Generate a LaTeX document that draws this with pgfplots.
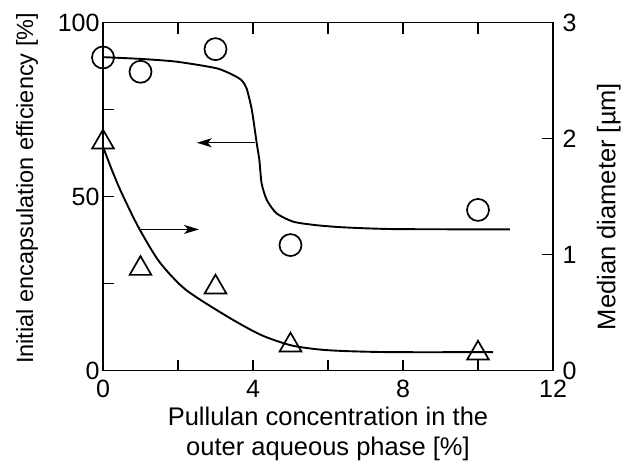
\documentclass[border=0pt]{standalone}
\usepackage{pgfplots}
\pgfplotsset{compat=1.18}
\usepackage{fontspec}
\setmainfont{Liberation Sans}
\usetikzlibrary{arrows.meta}
\begin{document}
\begin{tikzpicture}
\pgfplotsset{
  common/.style={
    scale only axis, width=450bp, height=348bp,
    xmin=0, xmax=12,
    tick align=inside,
    major tick length=11bp,
    axis line style={line width=1.5bp},
    every tick/.style={line width=1.5bp, black},
    /pgf/number format/assume math mode=true,
    tick label style={font=\fontsize{25bp}{30bp}\selectfont},
    label style={font=\fontsize{25.5bp}{30bp}\selectfont},
  }
}
\begin{axis}[common,
  ymin=0, ymax=100,
  xtick={0,2,4,6,8,10,12}, xticklabels={0,,4,,8,,12},
  ytick={0,25,50,75,100}, yticklabels={0,,50,,100},
  ytick pos=left,
  xticklabel style={yshift=-6bp},
  xlabel={Pullulan concentration in the\\outer aqueous phase [\%]},
  xlabel style={align=center, at={(axis description cs:0.5,-0.094)}, anchor=north},
  ylabel={Initial encapsulation efficiency [\%]},
  ylabel style={font=\fontsize{23.5bp}{28bp}\selectfont, at={(axis description cs:-0.169,0.524)}, anchor=center},
]
% fitted curve
\addplot[black, line width=1.9bp, smooth, tension=0.4] coordinates {
 (0,90.1) (1,89.6) (1.96,88.8) (3.03,86.9) (3.5,84.8) (3.7,83.4) (3.83,81.1)
 (3.97,74.9) (4.10,65.3) (4.17,60.5) (4.23,53.8) (4.37,49.0) (4.63,45.2)
 (5.08,42.8) (5.7,41.8) (6.41,41.2) (7.74,40.7) (10.85,40.6)
};
% data: circles
\addplot[only marks, mark=o, mark size=11bp, mark options={line width=1.7bp, fill=white}, black] coordinates {
 (0,90.0) (1,85.9) (3,92.4) (5,36.1) (10,46.2)
};
\draw[line width=1.4bp, -{Stealth[length=15bp,width=9bp,inset=4bp]}] (axis cs:4.05,65.5) -- (axis cs:2.5,65.5);
\draw[line width=1.4bp, -{Stealth[length=15bp,width=9bp,inset=4bp]}] (axis cs:0.99,40.6) -- (axis cs:2.56,40.6);
\end{axis}
\begin{axis}[common,
  axis x line=none, axis y line*=right,
  tick align=inside,
  ymin=0, ymax=3,
  ytick={0,1,2,3},
  yticklabel style={xshift=6bp},
  ylabel={Median diameter [µm]},
  ylabel style={at={(axis description cs:1.124,0.472)}, anchor=center},
]
\addplot[black, line width=1.9bp, smooth, tension=0.45] coordinates {
 (0,1.93) (0.25,1.72) (0.5,1.53) (0.94,1.24) (1.5,0.94) (2.2,0.70) (3.3,0.47)
 (4.2,0.31) (5,0.22) (5.7,0.185) (6.4,0.17) (7.7,0.16) (10.4,0.16)
};
\addplot[only marks, mark=triangle, mark size=12.5bp, mark options={line width=1.7bp, fill=white}, black] coordinates {
 (0,1.97) (1,0.88) (3,0.72) (5,0.22) (10,0.15)
};
\end{axis}
\path (current axis.south west) ++(-103bp,-94.3bp) coordinate (bbA);
\path (current axis.north east) ++(72bp,22.7bp) coordinate (bbB);
\path (bbA) rectangle (bbB);
\end{tikzpicture}
\end{document}
